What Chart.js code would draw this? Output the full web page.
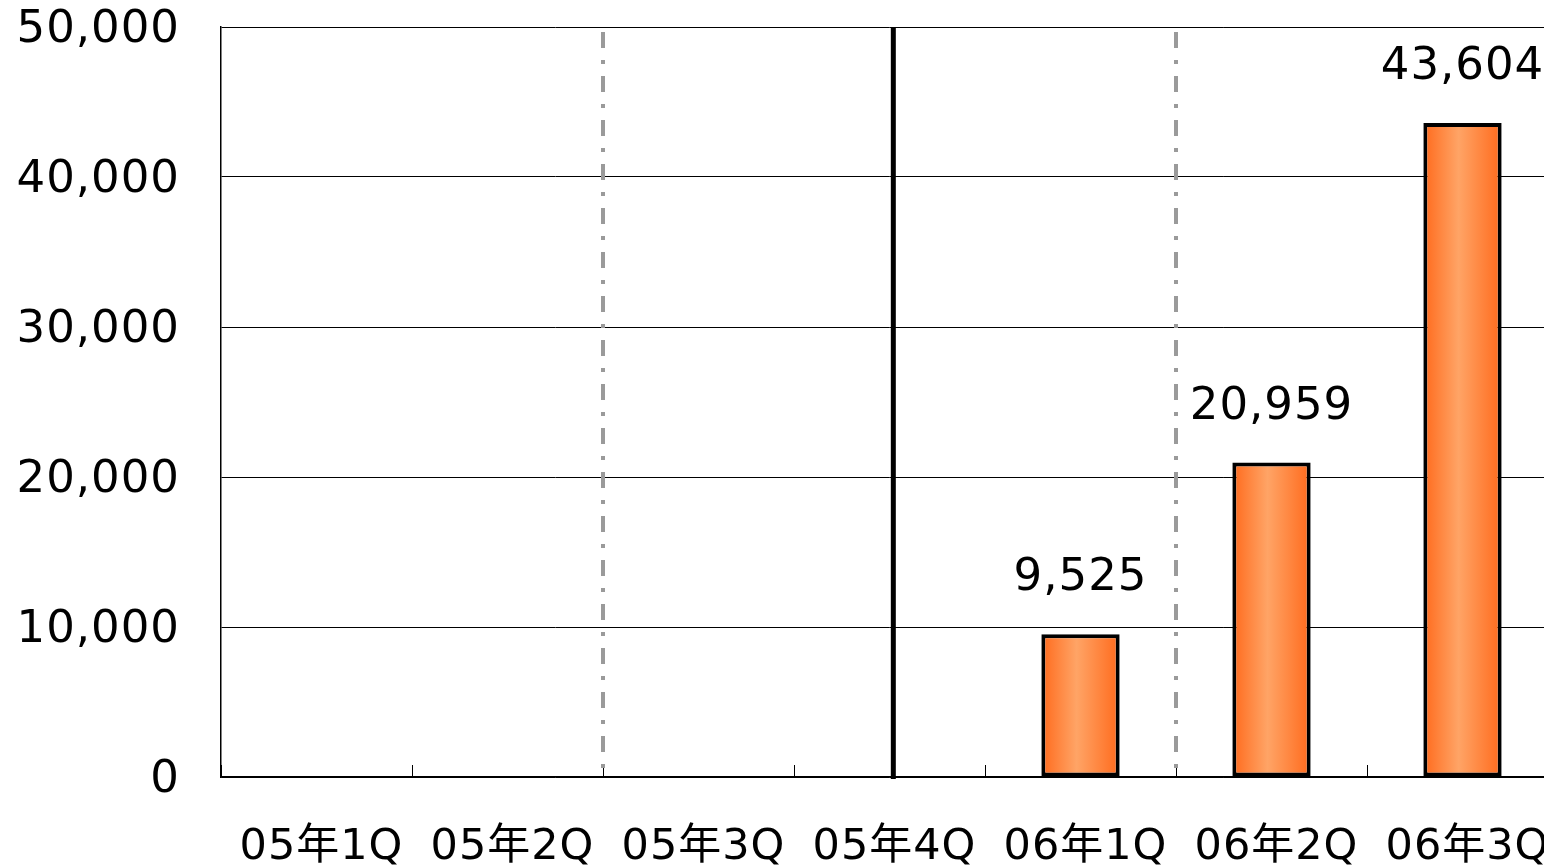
<!DOCTYPE html>
<html>
<head>
<meta charset="utf-8">
<script src="https://cdn.jsdelivr.net/npm/chart.js@4.4.1/dist/chart.umd.min.js"></script>
<style>
  html, body { margin: 0; padding: 0; overflow: hidden; background: #fff; }
  #wrap { width: 1558px; height: 865px; }
</style>
</head>
<body>
<div id="wrap"><canvas id="c" width="1558" height="865"></canvas></div>
<script>
// Quarterly figures
const categories = ['05年1Q', '05年2Q', '05年3Q', '05年4Q', '06年1Q', '06年2Q', '06年3Q'];
const values = [null, null, null, null, 9525, 20959, 43604];
const yTicks = [0, 10000, 20000, 30000, 40000, 50000];

// Vertical divider lines, in category units (index of category, fractional)
const dividerAt = [1.5, 3.02, 4.5];
const dividerKind = ['dashdot', 'solid', 'dashdot'];

const FONT = '"DejaVu Sans", "Noto Sans CJK JP", sans-serif';
const BAR_PCT = 0.41;

function fmt(v) { return Number(v).toLocaleString('en-US'); }

function barGradient(ctx) {
  const chart = ctx.chart;
  const xs = chart.scales.x;
  if (!chart.chartArea || !xs || ctx.dataIndex === undefined) return '#ff8a3d';
  const cx = xs.getPixelForValue(ctx.dataIndex);
  const w = (xs.getPixelForValue(1) - xs.getPixelForValue(0)) * BAR_PCT;
  const g = chart.ctx.createLinearGradient(cx - w / 2, 0, cx + w / 2, 0);
  g.addColorStop(0, '#ff6a1c');
  g.addColorStop(0.45, '#ffa466');
  g.addColorStop(1, '#ff6a1c');
  return g;
}

// slightly wider glyph spacing for all text
const spacing = {
  id: 'spacing',
  beforeDraw(chart) { chart.ctx.letterSpacing = '1px'; }
};

const dividers = {
  id: 'dividers',
  beforeDatasetsDraw(chart) {
    const { ctx, chartArea, scales } = chart;
    const xs = scales.x;
    const step = xs.getPixelForValue(1) - xs.getPixelForValue(0);
    ctx.save();
    dividerAt.forEach((v, i) => {
      const base = Math.floor(v);
      const x = xs.getPixelForValue(base) + (v - base) * step;
      ctx.beginPath();
      if (dividerKind[i] === 'solid') {
        ctx.strokeStyle = '#000';
        ctx.lineWidth = 5;
        ctx.setLineDash([]);
        ctx.moveTo(x, chartArea.top + 1);
        ctx.lineTo(x, chartArea.bottom + 2);
      } else {
        ctx.strokeStyle = '#9a9a9a';
        ctx.lineWidth = 4;
        ctx.setLineDash([16, 12, 4, 12]);
        ctx.moveTo(x, chartArea.top + 5);
        ctx.lineTo(x, chartArea.bottom - 3);
      }
      ctx.stroke();
    });
    ctx.restore();
  }
};

const valueLabels = {
  id: 'valueLabels',
  afterDatasetsDraw(chart) {
    const { ctx } = chart;
    const meta = chart.getDatasetMeta(0);
    ctx.save();
    ctx.fillStyle = '#000';
    ctx.font = '45px ' + FONT;
    ctx.textAlign = 'center';
    ctx.textBaseline = 'alphabetic';
    meta.data.forEach((bar, i) => {
      const v = values[i];
      if (v === null || v === undefined) return;
      ctx.fillText(fmt(v), bar.x, bar.y - 44);
    });
    ctx.restore();
  }
};

new Chart(document.getElementById('c'), {
  type: 'bar',
  data: {
    labels: categories,
    datasets: [{
      data: values,
      backgroundColor: barGradient,
      borderColor: '#000',
      borderWidth: 4,
      borderSkipped: false,
      categoryPercentage: 1,
      barPercentage: BAR_PCT
    }]
  },
  options: {
    responsive: false,
    animation: false,
    events: [],
    layout: { padding: { top: 27, left: 0, right: 0, bottom: 0 } },
    plugins: { legend: { display: false }, tooltip: { enabled: false } },
    scales: {
      x: {
        offset: true,
        grid: {
          offset: true,
          drawOnChartArea: false,
          drawTicks: true,
          tickLength: -12,
          color: '#000',
          lineWidth: 1
        },
        border: { display: true, color: '#000', width: 1.5 },
        ticks: {
          color: '#000',
          font: { family: FONT, size: 43 },
          padding: 57,
          labelOffset: 5,
          maxRotation: 0,
          autoSkip: false
        },
        afterFit(s) {
          s.height = 88;
          s.paddingLeft = 0;
          s.paddingRight = 0;
        }
      },
      y: {
        min: 0,
        max: 50000,
        afterBuildTicks(s) { s.ticks = yTicks.map(v => ({ value: v })); },
        grid: { color: '#000', lineWidth: 1, drawTicks: false },
        border: { display: true, color: '#000', width: 1.5 },
        ticks: {
          color: '#000',
          font: { family: FONT, size: 45 },
          padding: 41,
          labelOffset: 3,
          callback: v => fmt(v)
        },
        afterFit(s) {
          s.width = 221;
          s.paddingTop = 0;
          s.paddingBottom = 0;
        }
      }
    }
  },
  plugins: [spacing, dividers, valueLabels]
});
</script>
</body>
</html>
